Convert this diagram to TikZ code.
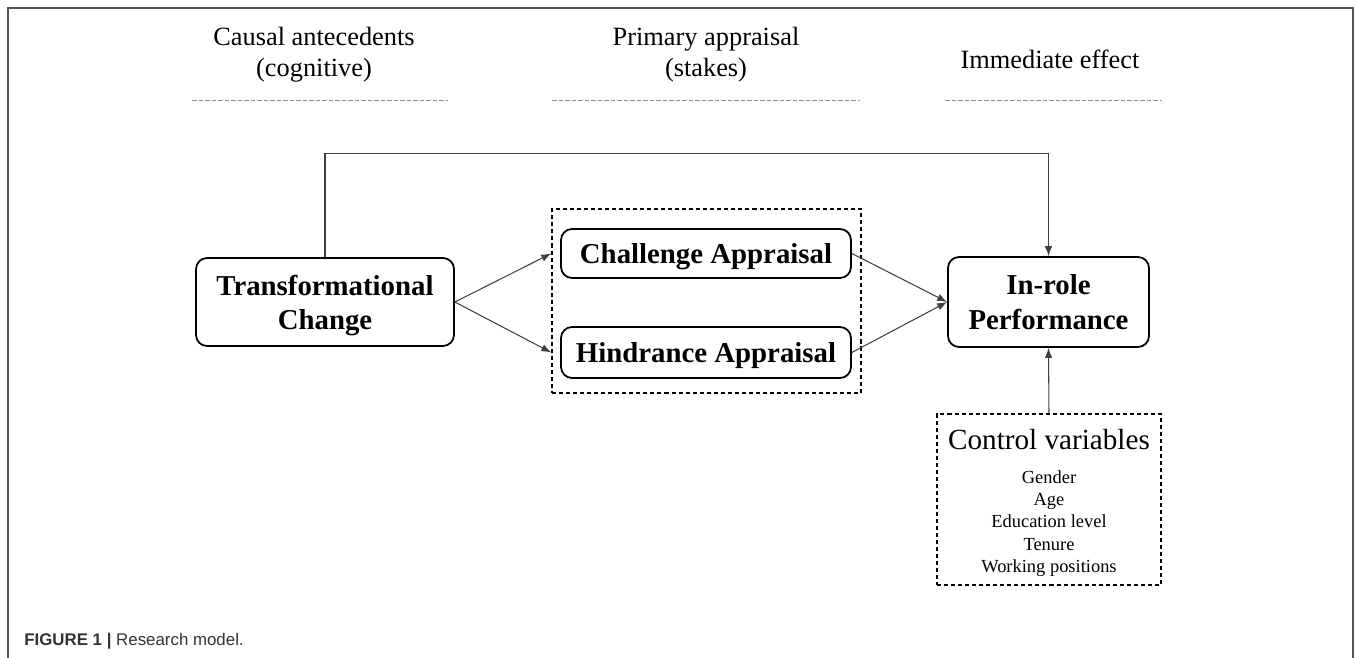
\documentclass[tikz,border=0pt]{standalone}
\usepackage{fontspec}
\setmainfont{Liberation Serif}
\newfontfamily\capfont{Liberation Sans}
\usetikzlibrary{arrows.meta}

\definecolor{framegray}{HTML}{555555}
\definecolor{linegray}{HTML}{404040}
\definecolor{rulegray}{HTML}{8C8C8C}
\definecolor{capgray}{HTML}{333333}

\tikzset{
  construct/.style={draw, rounded corners=0.22cm, line width=1pt, align=center, inner sep=0pt,
    text depth=0pt, font=\fontsize{16.4}{19.5}\selectfont\bfseries},
  groupbox/.style={draw, dash pattern=on 2.3pt off 1.7pt, line width=0.9pt, inner sep=0pt},
  heading/.style={align=center, font=\fontsize{15}{17.5}\selectfont},
  headrule/.style={rulegray, line width=0.5pt, dash pattern=on 2.7pt off 1pt},
  link/.style={linegray, line width=0.6pt, -{Latex[length=0.2cm,width=0.15cm]}},
}

\begin{document}
\begin{tikzpicture}[x=0.02cm, y=-0.02cm]
  \useasboundingbox (0,0) rectangle (1357,658);
  % frame, bottom edge runs off the page
  \draw[framegray, line width=1.1pt] (8,658) -- (8,8) -- (1353,8) -- (1353,658);

  % stage headings
  \node[heading] (cause) at (314,55) {Causal antecedents\\(cognitive)};
  \node[heading] (stake) at (706,55) {Primary appraisal\\(stakes)};
  \node[heading] (effect) at (1050,59) {Immediate effect};
  \draw[headrule] (192,100) -- (448,100);
  \draw[headrule] (552,100) -- (860,100);
  \draw[headrule] (945,100) -- (1162,100);

  % constructs
  \node[construct, minimum width=5.16cm, minimum height=1.76cm] (trans) at (325,302) {Transformational\\Change};
  \node[groupbox, minimum width=6.18cm, minimum height=3.68cm] (appr) at (706.5,301) {};
  \node[construct, minimum width=5.8cm, minimum height=0.98cm] (chal) at (706,253.5) {Challenge Appraisal};
  \node[construct, minimum width=5.8cm, minimum height=1.02cm] (hind) at (706,352.5) {Hindrance Appraisal};
  \node[construct, minimum width=4.02cm, minimum height=1.8cm] (perf) at (1048.5,302) {In-role\\Performance};

  % controls
  \node[groupbox, minimum width=4.48cm, minimum height=3.42cm] (ctrl) at (1049,499.5) {};
  \node[font=\fontsize{16.6}{20}\selectfont] (ctrltitle) at (1049,440) {Control variables};
  \node[align=center, font=\fontsize{10.5}{12.7}\selectfont] (ctrllist) at (1049,523.5)
    {Gender\\Age\\Education level\\Tenure\\Working positions};

  % paths
  \draw[link] (trans.north) -- ++(0,-104) -| (perf.north);
  \draw[link] (trans.east) -- (appr.west |- chal.west);
  \draw[link] (trans.east) -- (appr.west |- hind.west);
  \draw[link] (chal.east) -- (perf.west);
  \draw[link] (hind.east) -- (perf.west);
  \draw[link] (ctrl.north) -- (perf.south);

  \node[anchor=base west, inner sep=0pt, text=capgray, font=\capfont\fontsize{9.6}{11}\selectfont] (caption) at (24,645)
    {\textbf{FIGURE 1 | }Research model.};
\end{tikzpicture}
\end{document}
